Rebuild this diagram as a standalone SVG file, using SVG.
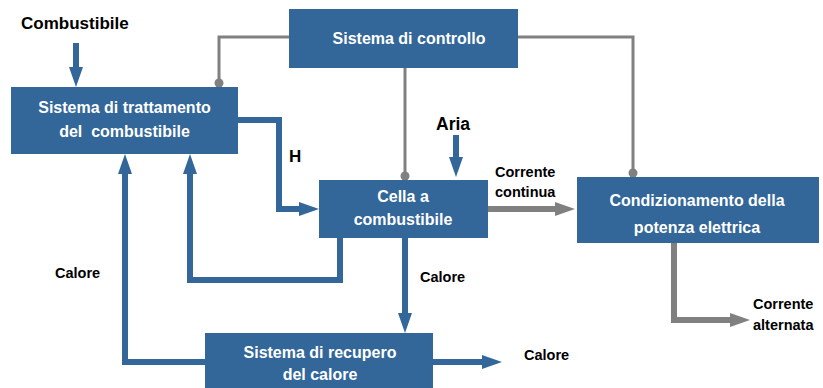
<svg xmlns="http://www.w3.org/2000/svg" width="823" height="388" viewBox="0 0 823 388">
<defs>
<style>
.box{fill:#336699}
.bt{font-family:"Liberation Sans",Arial,sans-serif;font-weight:bold;font-size:16px;fill:#ffffff;text-anchor:middle}
.lb{font-family:"Liberation Sans",Arial,sans-serif;font-weight:bold;fill:#000000}
.blue{fill:none;stroke:#336699;stroke-width:6;stroke-linejoin:miter}
.gray{fill:none;stroke:#808080;stroke-width:6;stroke-linejoin:miter}
.ctl{fill:none;stroke:#808080;stroke-width:3}
</style>
<marker id="ab" markerUnits="userSpaceOnUse" markerWidth="20" markerHeight="14" refX="0" refY="7" orient="auto" overflow="visible">
<path d="M0,0 L20,7 L0,14 z" fill="#336699"/>
</marker>
<marker id="ag" markerUnits="userSpaceOnUse" markerWidth="20" markerHeight="14" refX="0" refY="7" orient="auto" overflow="visible">
<path d="M0,0 L20,7 L0,14 z" fill="#808080"/>
</marker>
</defs>
<rect width="823" height="388" fill="#ffffff"/>
<g id="connectors">
<path class="ctl" d="M289,37 H219 V83"/>
<circle cx="219" cy="83" r="4.5" fill="#808080"/>
<path class="ctl" d="M405,68 V176"/>
<circle cx="405" cy="176" r="4.5" fill="#808080"/>
<path class="ctl" d="M518,37 H633 V173"/>
<circle cx="633" cy="173" r="4.5" fill="#808080"/>
<path class="blue" d="M76,43 V67" marker-end="url(#ab)"/>
<path class="blue" d="M238,120 H279 V209 H299" marker-end="url(#ab)"/>
<path class="blue" d="M456,135 V157" marker-end="url(#ab)"/>
<path class="blue" d="M340,238 V280 H190 V174" marker-end="url(#ab)"/>
<path class="blue" d="M205,362 H125 V174" marker-end="url(#ab)"/>
<path class="blue" d="M405,238 V313" marker-end="url(#ab)"/>
<path class="blue" d="M433,362 H482" marker-end="url(#ab)"/>
<path class="gray" d="M488,209 H555" marker-end="url(#ag)"/>
<path class="gray" d="M674,243 V320 H730" marker-end="url(#ag)"/>
</g>
<g id="n-trattamento">
<rect class="box" x="11" y="87" width="227" height="67"/>
<text class="bt" x="124.5" y="113">Sistema di trattamento</text>
<text class="bt" x="124.5" y="137" xml:space="preserve">del  combustibile</text>
</g>
<g id="n-controllo">
<rect class="box" x="289" y="9" width="229" height="59"/>
<text class="bt" x="409" y="44">Sistema di controllo</text>
</g>
<g id="n-cella">
<rect class="box" x="319" y="180" width="169" height="58"/>
<text class="bt" x="403" y="202">Cella a</text>
<text class="bt" x="403" y="225">combustibile</text>
</g>
<g id="n-condizionamento">
<rect class="box" x="577" y="177" width="242" height="66"/>
<text class="bt" x="697" y="206">Condizionamento della</text>
<text class="bt" x="697" y="233">potenza elettrica</text>
</g>
<g id="n-recupero">
<rect class="box" x="205" y="333" width="228" height="55"/>
<text class="bt" x="320" y="358">Sistema di recupero</text>
<text class="bt" x="320" y="380">del calore</text>
</g>
<g id="labels">
<text class="lb" x="21" y="29" font-size="17">Combustibile</text>
<text class="lb" x="289" y="162" font-size="17">H</text>
<text class="lb" x="436" y="130" font-size="17.5">Aria</text>
<text class="lb" x="495" y="177" font-size="14.5">Corrente</text>
<text class="lb" x="495" y="197" font-size="14.5">continua</text>
<text class="lb" x="55" y="278" font-size="14.5">Calore</text>
<text class="lb" x="420" y="282" font-size="14.5">Calore</text>
<text class="lb" x="524" y="360" font-size="14.5">Calore</text>
<text class="lb" x="753" y="309" font-size="14.5">Corrente</text>
<text class="lb" x="753" y="330" font-size="14.5">alternata</text>
</g>
</svg>
